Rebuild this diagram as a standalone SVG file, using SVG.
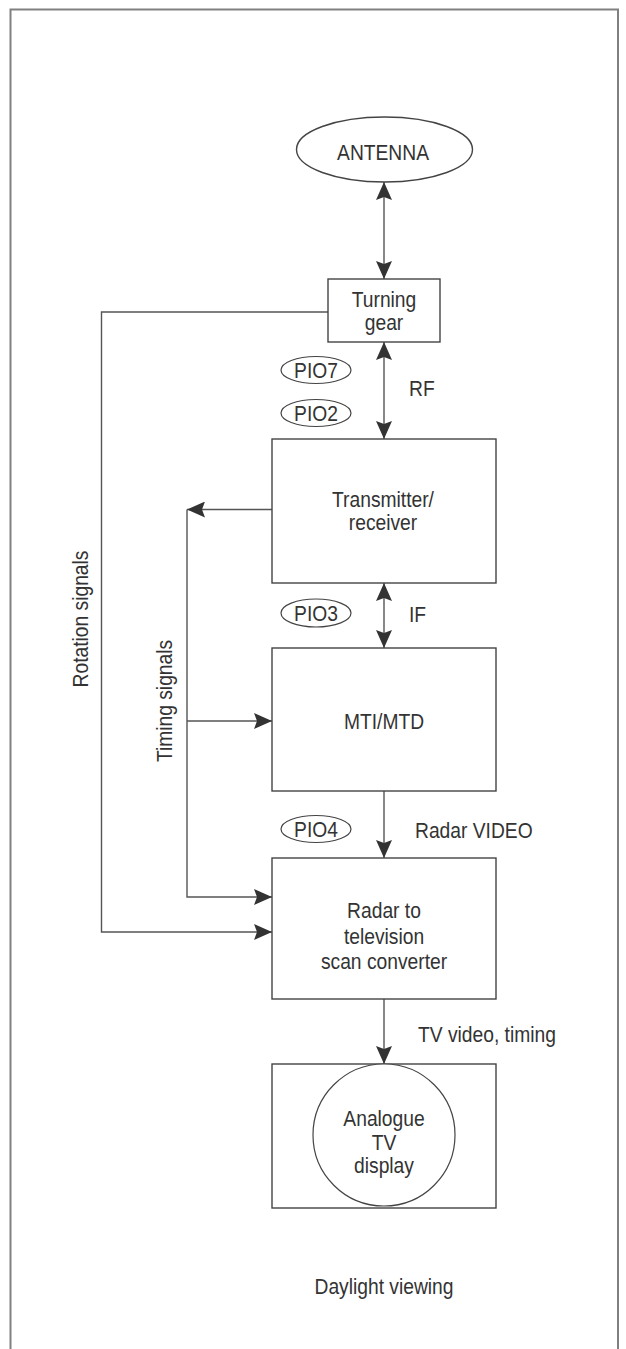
<svg xmlns="http://www.w3.org/2000/svg" width="626" height="1349" viewBox="0 0 626 1349">
<style>
text{font-family:"Liberation Sans",Arial,sans-serif;font-size:22px;fill:#333;text-anchor:middle}
text.l{text-anchor:start}
.box{fill:#fff;stroke:#444;stroke-width:1.4}
.lbl{fill:#fff;stroke:#444;stroke-width:1.2}
.con{fill:none;stroke:#555;stroke-width:1.4}
.frame{fill:none;stroke:#808080;stroke-width:2}
</style>
<defs>
<marker id="ah" viewBox="0 0 18 16" refX="18" refY="8" markerWidth="18" markerHeight="16" markerUnits="userSpaceOnUse" orient="auto-start-reverse">
<path d="M0,0 L18,8 L0,16 L3,8 z" fill="#333"/>
</marker>
</defs>
<rect width="626" height="1349" fill="#fff"/>
<path class="frame" d="M10.5,1349 V9.5 H618 V1349"/>

<g id="connectors">
<path class="con" d="M384,182 V279" marker-start="url(#ah)" marker-end="url(#ah)"/>
<path class="con" d="M384,342 V439" marker-start="url(#ah)" marker-end="url(#ah)"/>
<path class="con" d="M384,583 V648" marker-start="url(#ah)" marker-end="url(#ah)"/>
<path class="con" d="M384,791 V858" marker-end="url(#ah)"/>
<path class="con" d="M384,999 V1064" marker-end="url(#ah)"/>
<path class="con" d="M328,312 H101.5 V932 H272" marker-end="url(#ah)"/>
<path class="con" d="M272,509.5 H187" marker-end="url(#ah)"/>
<path class="con" d="M187,509.5 V897 H272" marker-end="url(#ah)"/>
<path class="con" d="M187,721 H272" marker-end="url(#ah)"/>
</g>

<g id="antenna">
<ellipse class="box" cx="384.5" cy="149.5" rx="88" ry="32.5"/>
<text transform="translate(383,160) scale(0.875,1)">ANTENNA</text>
</g>

<g id="turning-gear">
<rect class="box" x="328" y="279" width="112" height="63"/>
<text transform="translate(384,307) scale(0.875,1)">Turning</text>
<text transform="translate(384,330) scale(0.875,1)">gear</text>
</g>

<g id="pio7">
<ellipse class="lbl" cx="316" cy="370" rx="35" ry="13.5"/>
<text transform="translate(316,378) scale(0.875,1)">PIO7</text>
</g>
<g id="pio2">
<ellipse class="lbl" cx="316" cy="413" rx="35" ry="13.5"/>
<text transform="translate(316,421) scale(0.875,1)">PIO2</text>
</g>
<g id="rf-label">
<text class="l" transform="translate(409,396) scale(0.875,1)">RF</text>
</g>

<g id="transmitter">
<rect class="box" x="272" y="439" width="224" height="144"/>
<text transform="translate(383,507) scale(0.875,1)">Transmitter/</text>
<text transform="translate(383,530) scale(0.875,1)">receiver</text>
</g>

<g id="pio3">
<ellipse class="lbl" cx="316" cy="613" rx="35" ry="14"/>
<text transform="translate(316,621) scale(0.875,1)">PIO3</text>
</g>
<g id="if-label">
<text class="l" transform="translate(409,622) scale(0.875,1)">IF</text>
</g>

<g id="mti">
<rect class="box" x="272" y="648" width="224" height="143"/>
<text transform="translate(384,729) scale(0.875,1)">MTI/MTD</text>
</g>

<g id="pio4">
<ellipse class="lbl" cx="316" cy="829" rx="35" ry="13.5"/>
<text transform="translate(316,837) scale(0.875,1)">PIO4</text>
</g>
<g id="video-label">
<text class="l" transform="translate(415,838) scale(0.875,1)">Radar VIDEO</text>
</g>

<g id="converter">
<rect class="box" x="272" y="858" width="224" height="141"/>
<text transform="translate(384,918) scale(0.875,1)">Radar to</text>
<text transform="translate(384,944) scale(0.875,1)">television</text>
<text transform="translate(384,969) scale(0.875,1)">scan converter</text>
</g>

<g id="tv-label">
<text class="l" transform="translate(418,1042) scale(0.875,1)">TV video, timing</text>
</g>

<g id="display">
<rect class="box" x="272" y="1064" width="224" height="144"/>
<circle class="lbl" cx="384" cy="1135" r="71"/>
<text transform="translate(384,1126) scale(0.875,1)">Analogue</text>
<text transform="translate(384,1150) scale(0.875,1)">TV</text>
<text transform="translate(384,1173) scale(0.875,1)">display</text>
</g>

<g id="rotation-label">
<text transform="translate(88,619) rotate(-90) scale(0.875,1)">Rotation signals</text>
</g>
<g id="timing-label">
<text transform="translate(172,701) rotate(-90) scale(0.875,1)">Timing signals</text>
</g>

<g id="daylight-label">
<text transform="translate(384,1294) scale(0.875,1)">Daylight viewing</text>
</g>
</svg>
